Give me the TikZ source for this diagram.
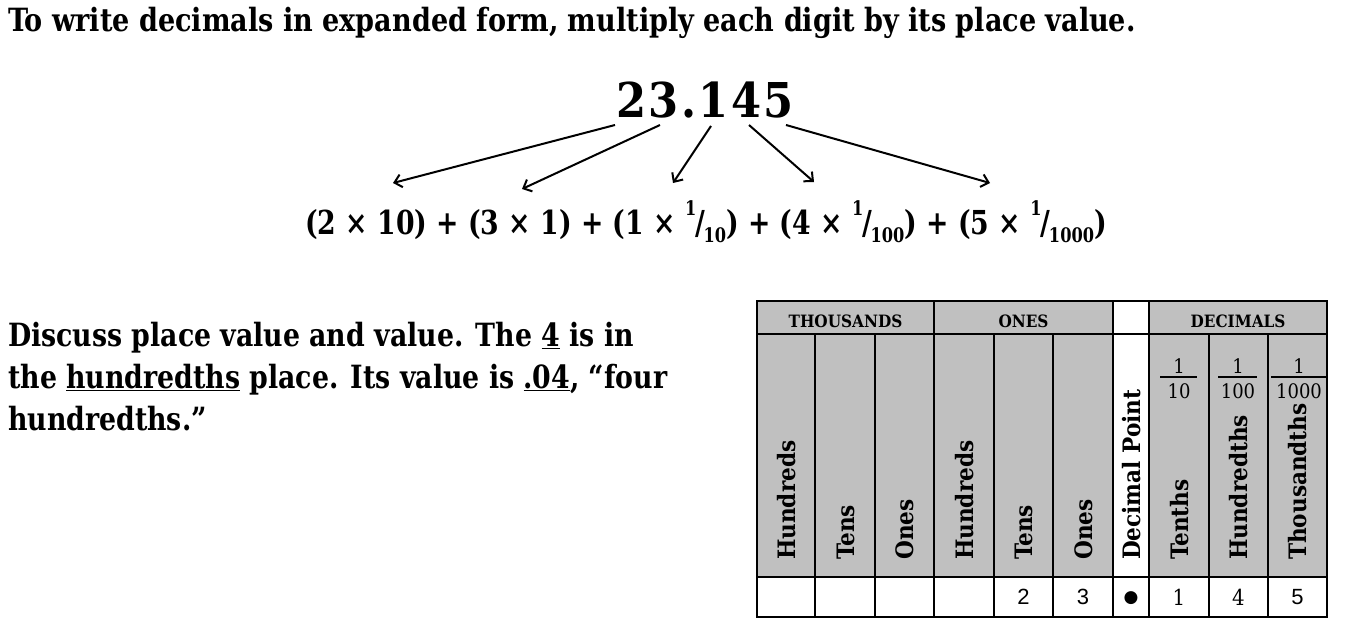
\documentclass[tikz,border=0pt]{standalone}
\usepackage{fontspec}
\setmainfont{DejaVu Serif Condensed}
\newfontfamily\digsans{Liberation Sans}
\newfontfamily\symfont{DejaVu Sans}
\usetikzlibrary{arrows.meta}
\definecolor{cellgray}{RGB}{192,192,192}
\newcommand\fr[2]{\raisebox{0.55em}{\fontsize{20}{20}\selectfont #1}\kern-0.04em/\kern-0.04em\raisebox{-0.25em}{\fontsize{20}{20}\selectfont #2}}
\begin{document}
\begin{tikzpicture}[x=1pt,y=-1pt,
  arr/.style={line width=2pt,-{Straight Barb[length=7pt,width=13pt,line width=2pt]}},
  gridline/.style={line width=2.6pt},
  hdr/.style={font=\fontsize{17}{20}\selectfont\bfseries, inner sep=0pt},
  vlab/.style={font=\fontsize{24}{28}\selectfont\bfseries, rotate=90, anchor=base west, inner sep=0pt},
  fracnum/.style={font=\fontsize{20}{22}\selectfont, inner sep=0pt},
  fracline/.style={line width=1.5pt},
  val/.style={font=\fontsize{22}{24}\selectfont, inner sep=0pt},
  valsans/.style={font=\fontsize{22}{24}\selectfont\digsans, inner sep=0pt}]
\useasboundingbox (0,0) rectangle (1356,640);

% title
\node[anchor=base west, inner sep=0pt, font=\fontsize{32}{38}\selectfont\bfseries] (title) at (8,31)
  {\scalebox{0.94}[1]{To write decimals in expanded form, multiply each digit by its place value.}};

% number
\node[anchor=base, inner sep=0pt, font=\fontsize{48}{52}\selectfont\bfseries\addfontfeature{LetterSpace=5}] (num) at (705,117) {23.145};

% expression
\node[anchor=base, inner sep=0pt, font=\fontsize{33}{38}\selectfont\bfseries] (expr) at (706,234)
  {\scalebox{0.9}[1]{(2 × 10) + (3 × 1) + (1 × \fr{1}{10}) + (4 × \fr{1}{100}) + (5 × \fr{1}{1000})}};

% arrows
\coordinate (s1) at (615,125); \coordinate (e1) at (393,183);
\coordinate (s2) at (660,125); \coordinate (e2) at (522,189);
\coordinate (s3) at (711,126); \coordinate (e3) at (673,183);
\coordinate (s4) at (749,125); \coordinate (e4) at (814,182);
\coordinate (s5) at (786,125); \coordinate (e5) at (990,183);
\draw[arr] (s1) -- (e1);
\draw[arr] (s2) -- (e2);
\draw[arr] (s3) -- (e3);
\draw[arr] (s4) -- (e4);
\draw[arr] (s5) -- (e5);

% discussion
\node[anchor=north west, inner sep=0pt, font=\fontsize{32}{42}\selectfont\bfseries] (disc) at (8,317)
  {\scalebox{0.93}[1]{\begin{tabular}{@{}l@{}}Discuss place value and value. The \underline{4} is in\\
   the \underline{hundredths} place. Its value is \underline{.04}, “four\\
   hundredths.”\end{tabular}}};

% table
\fill[cellgray] (757,301) rectangle (1327,577);
\fill[white] (1113,301) rectangle (1149,577);
\draw[gridline] (757,334) -- (1327,334);
\draw[gridline] (757,577) -- (1327,577);
\foreach \x in {934,1113,1149} \draw[gridline] (\x,301) -- (\x,617);
\foreach \x in {815,875,994,1053,1209,1268} \draw[gridline] (\x,334) -- (\x,617);
\draw[gridline] (757,301) rectangle (1327,617);

\node[hdr] (hth) at (845.5,321) {THOUSANDS};
\node[hdr] (hon) at (1023.5,321) {ONES};
\node[hdr] (hde) at (1238,321) {DECIMALS};

\node[vlab] (v1) at (795,560) {Hundreds};
\node[vlab] (v2) at (854,560) {Tens};
\node[vlab] (v3) at (913.5,560) {Ones};
\node[vlab] (v4) at (973,560) {Hundreds};
\node[vlab] (v5) at (1032.5,560) {Tens};
\node[vlab] (v6) at (1092,560) {Ones};
\node[vlab] (v7) at (1140,560) {Decimal Point};
\node[vlab] (v8) at (1188,560) {Tenths};
\node[vlab] (v9) at (1247.5,560) {Hundredths};
\node[vlab] (v10) at (1306.5,560) {Thousandths};

\node[fracnum] (f1n) at (1179,366) {1};
\node[fracnum] (f1d) at (1179,391) {10};
\draw[fracline] (1160,377) -- (1197,377);
\node[fracnum] (f2n) at (1238,366) {1};
\node[fracnum] (f2d) at (1238,391) {100};
\draw[fracline] (1218,377) -- (1257,377);
\node[fracnum] (f3n) at (1299,366) {1};
\node[fracnum] (f3d) at (1299,391) {1000};
\draw[fracline] (1271,377) -- (1328,377);

\node[valsans] (b5) at (1023.5,597) {2};
\node[valsans] (b6) at (1083,597) {3};
\node[inner sep=0pt, font=\fontsize{17}{20}\selectfont\symfont] (b7) at (1131,598) {●};
\node[val] (b8) at (1179,597) {1};
\node[val] (b9) at (1238.5,597) {4};
\node[valsans] (b10) at (1297.5,597) {5};
\end{tikzpicture}
\end{document}
